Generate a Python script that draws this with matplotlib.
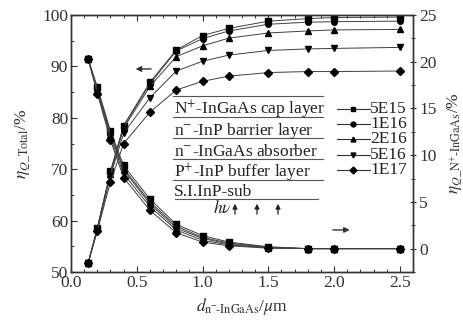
import matplotlib
matplotlib.use("Agg")
import matplotlib.pyplot as plt
from matplotlib.lines import Line2D
from matplotlib.ticker import MultipleLocator

plt.rcParams['font.family'] = ['Liberation Serif', 'DejaVu Serif']
plt.rcParams['mathtext.fontset'] = 'stix'
plt.rcParams['font.size'] = 12.5

# ---------------- data ----------------
thickness = [0.13, 0.2, 0.3, 0.4, 0.6, 0.8, 1.0, 1.2, 1.5, 1.8, 2.0, 2.5]
doping_labels = ['5E15', '1E16', '2E16', '5E16', '1E17']
markers = ['s', 'o', '^', 'v', 'D']

eta_total = {
    '5E15': [51.7, 58.6, 69.6, 78.5, 86.9, 93.2, 96.0, 97.4, 98.8, 99.3, 99.5, 99.6],
    '1E16': [51.7, 58.5, 69.4, 78.3, 86.6, 93.0, 95.4, 96.9, 98.2, 98.6, 98.7, 98.8],
    '2E16': [51.7, 58.4, 69.1, 78.0, 86.1, 91.9, 94.0, 95.5, 96.5, 96.9, 97.1, 97.2],
    '5E16': [51.7, 58.2, 68.7, 77.0, 83.9, 89.1, 91.0, 92.2, 93.1, 93.4, 93.5, 93.7],
    '1E17': [51.7, 58.0, 67.5, 75.0, 81.1, 85.4, 87.1, 88.1, 88.8, 89.0, 89.0, 89.1],
}
eta_nplus = {
    '5E15': [20.3, 17.3, 12.6, 8.9, 5.3, 2.6, 1.4, 0.7, 0.2, 0.0, 0.0, 0.0],
    '1E16': [20.3, 17.1, 12.4, 8.6, 5.0, 2.4, 1.2, 0.6, 0.15, 0.0, 0.0, 0.0],
    '2E16': [20.3, 17.0, 12.2, 8.4, 4.8, 2.2, 1.1, 0.5, 0.1, 0.0, 0.0, 0.0],
    '5E16': [20.3, 16.8, 11.9, 8.0, 4.5, 2.0, 0.9, 0.4, 0.1, 0.0, 0.0, 0.0],
    '1E17': [20.3, 16.6, 11.6, 7.6, 4.1, 1.7, 0.7, 0.3, 0.05, 0.0, 0.0, 0.0],
}
layer_names = [r'N$^{+}$-InGaAs cap layer', r'n$^{-}$-InP barrier layer',
               r'n$^{-}$-InGaAs absorber', r'P$^{+}$-InP buffer layer', 'S.I.InP-sub']

# ---------------- figure ----------------
W, H = 463, 328
fig = plt.figure(figsize=(W / 100, H / 100), dpi=100)
ax = fig.add_axes([71 / W, 1 - 272 / H, (413 - 71) / W, (272 - 15) / H])
ax2 = ax.twinx()

lc = '#404040'
for lab, m in zip(doping_labels, markers):
    ax.plot(thickness, eta_total[lab], color=lc, lw=0.7, marker=m, ms=4,
            mfc='black', mec='black')
    ax2.plot(thickness, eta_nplus[lab], color=lc, lw=0.7, marker=m, ms=4,
             mfc='black', mec='black')

ax.set_xlim(0, 2.6)
ax.set_ylim(50, 100)
ax2.set_ylim(-2.5, 25)

ax.xaxis.set_major_locator(MultipleLocator(0.5))
ax.xaxis.set_minor_locator(MultipleLocator(0.1))
ax.yaxis.set_major_locator(MultipleLocator(10))
ax.yaxis.set_minor_locator(MultipleLocator(5))
ax2.yaxis.set_major_locator(MultipleLocator(5))
ax2.yaxis.set_minor_locator(MultipleLocator(2.5))
ax.xaxis.set_major_formatter(matplotlib.ticker.FormatStrFormatter('%.1f'))

ax.tick_params(which='both', direction='in', top=True, right=False, color='#333333')
ax.tick_params(which='major', length=4, width=0.8, pad=2, labelcolor='#333333')
ax.tick_params(which='minor', length=2.5, width=0.7)
ax2.tick_params(which='both', direction='inout', color='#333333')
ax2.tick_params(which='major', length=5, width=0.8, pad=2, labelcolor='#333333')
ax2.tick_params(which='minor', length=3, width=0.7)
for a in (ax, ax2):
    for s in a.spines.values():
        s.set_color('#333333')
        s.set_linewidth(1.0)

ax.set_xlabel(r'$d_{\mathrm{n^{-}\!\text{-}InGaAs}}$/$\mu$m', color='#333333', labelpad=4)
ax.set_ylabel(r'$\eta_{Q\_\mathrm{Total}}$/%', color='#333333')
ax.yaxis.set_label_coords(-0.115, 0.5)
ax2.set_ylabel(r'$\eta_{Q\_\mathrm{N^{+}\text{-}InGaAs}}$/%', color='#333333', rotation=90)
ax2.yaxis.set_label_coords(1.095, 0.5)

# arrows
ax.annotate('', xy=(0.47, 89.5), xytext=(0.63, 89.5),
            arrowprops=dict(arrowstyle='-|>', color='#333333', lw=1.0, mutation_scale=8))
ax2.annotate('', xy=(2.14, 2.0), xytext=(1.97, 2.0),
             arrowprops=dict(arrowstyle='-|>', color='#333333', lw=1.0, mutation_scale=8))

# ---------------- layer schematic ----------------
def fx(px):
    return px / W

def fy(py):
    return 1 - py / H

line_ys = [96, 117, 138, 159, 180, 199]
for i, ly in enumerate(line_ys):
    x0 = 173 if i < 5 else 175
    x1 = 323 if i < 5 else 318
    fig.add_artist(Line2D([fx(x0), fx(x1)], [fy(ly), fy(ly)], color='#555555', lw=0.8))
for i, name in enumerate(layer_names):
    fig.text(fx(174), fy(line_ys[i + 1] - 3), name, ha='left', va='baseline',
             color='#222222', fontsize=12.5)

fig.text(fx(232), fy(213), r'$h\nu$', ha='right', va='baseline', color='#222222', fontsize=12.5)
for axp in (235, 257, 278):
    fig.add_artist(matplotlib.patches.FancyArrowPatch(
        (fx(axp), fy(217)), (fx(axp), fy(201)), transform=fig.transFigure,
        arrowstyle='-|>', mutation_scale=7, color='#222222', lw=0.9))

# ---------------- doping legend ----------------
leg_ys = [109, 124, 139, 155, 170]
for ly, lab, m in zip(leg_ys, doping_labels, markers):
    fig.add_artist(Line2D([fx(337), fx(370)], [fy(ly), fy(ly)], color='#333333', lw=0.8))
    fig.add_artist(Line2D([fx(353)], [fy(ly)], marker=m, ms=3.5, color='black', lw=0))
    fig.text(fx(370), fy(ly), lab, ha='left', va='center', color='#222222', fontsize=12.5)

fig.savefig('out.png', dpi=100)
